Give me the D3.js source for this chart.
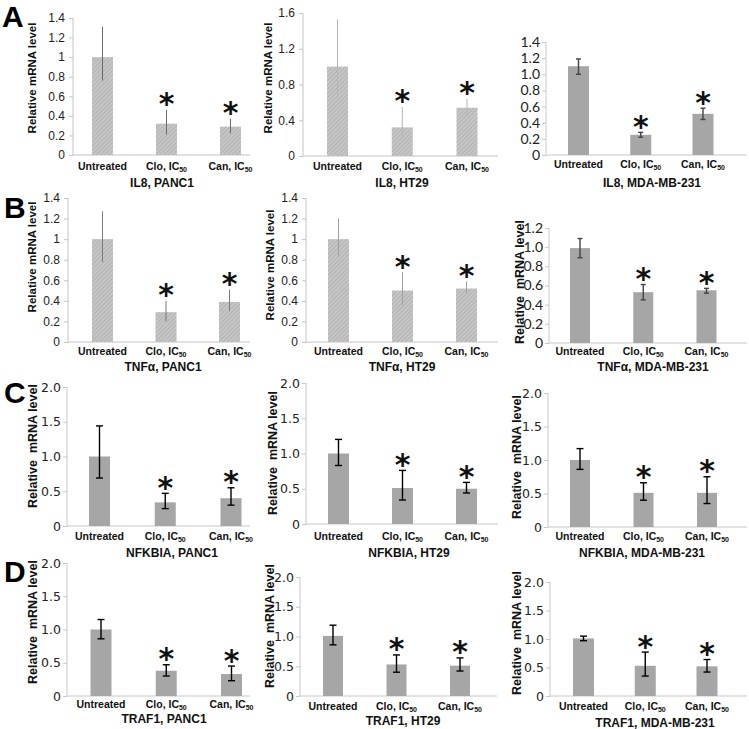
<!DOCTYPE html>
<html><head><meta charset="utf-8">
<script src="https://cdn.jsdelivr.net/npm/d3@7"></script>
<style>body{margin:0;background:#fff} svg{display:block}</style>
</head><body><svg id="c" width="749" height="729"></svg>
<script>
// ---------------- DATA ----------------
const categories = ["Untreated", "Clo", "Can"];
const significant = [false, true, true];
const panelNames = ["IL8, PANC1","IL8, HT29","IL8, MDA-MB-231",
  "TNFα, PANC1","TNFα, HT29","TNFα, MDA-MB-231",
  "NFKBIA, PANC1","NFKBIA, HT29","NFKBIA, MDA-MB-231",
  "TRAF1, PANC1","TRAF1, HT29","TRAF1, MDA-MB-231"];
const rowLetters = ["A","B","C","D"];

const IL8_PANC1_mean = [1.00, 0.32, 0.29];
const IL8_PANC1_low  = [0.76, 0.21, 0.22];
const IL8_PANC1_high = [1.31, 0.46, 0.37];
const IL8_HT29_mean  = [1.00, 0.32, 0.54];
const IL8_HT29_low   = [0.65, 0.20, 0.46];
const IL8_HT29_high  = [1.53, 0.55, 0.64];
const IL8_MDA_mean   = [1.10, 0.25, 0.51];
const IL8_MDA_low    = [1.00, 0.22, 0.44];
const IL8_MDA_high   = [1.19, 0.28, 0.58];
const TNF_PANC1_mean = [1.00, 0.29, 0.39];
const TNF_PANC1_low  = [0.78, 0.20, 0.30];
const TNF_PANC1_high = [1.27, 0.40, 0.51];
const TNF_HT29_mean  = [1.00, 0.50, 0.52];
const TNF_HT29_low   = [0.83, 0.36, 0.47];
const TNF_HT29_high  = [1.20, 0.68, 0.59];
const TNF_MDA_mean   = [0.99, 0.53, 0.55];
const TNF_MDA_low    = [0.89, 0.45, 0.52];
const TNF_MDA_high   = [1.09, 0.61, 0.57];
const NFK_PANC1_mean = [1.00, 0.34, 0.40];
const NFK_PANC1_low  = [0.69, 0.25, 0.30];
const NFK_PANC1_high = [1.44, 0.47, 0.55];
const NFK_HT29_mean  = [1.00, 0.51, 0.50];
const NFK_HT29_low   = [0.83, 0.34, 0.44];
const NFK_HT29_high  = [1.20, 0.76, 0.59];
const NFK_MDA_mean   = [1.00, 0.51, 0.51];
const NFK_MDA_low    = [0.86, 0.40, 0.35];
const NFK_MDA_high   = [1.17, 0.66, 0.75];
const TRAF_PANC1_mean = [1.00, 0.38, 0.33];
const TRAF_PANC1_low  = [0.86, 0.30, 0.23];
const TRAF_PANC1_high = [1.15, 0.47, 0.45];
const TRAF_HT29_mean  = [1.01, 0.53, 0.51];
const TRAF_HT29_low   = [0.86, 0.40, 0.42];
const TRAF_HT29_high  = [1.19, 0.69, 0.64];
const TRAF_MDA_mean   = [1.01, 0.53, 0.52];
const TRAF_MDA_low    = [0.97, 0.35, 0.42];
const TRAF_MDA_high   = [1.05, 0.77, 0.64];

const ticks14general = ["0","0.2","0.4","0.6","0.8","1","1.2","1.4"];
const ticks16general = ["0","0.4","0.8","1.2","1.6"];
const ticks14fixed   = ["0","0.2","0.4","0.6","0.8","1.0","1.2","1.4"];
const ticks12fixed   = ["0","0.2","0.4","0.6","0.8","1.0","1.2"];
const ticks20fixed   = ["0","0.5","1.0","1.5","2.0"];

const seriesMean = [IL8_PANC1_mean, IL8_HT29_mean, IL8_MDA_mean, TNF_PANC1_mean, TNF_HT29_mean, TNF_MDA_mean,
  NFK_PANC1_mean, NFK_HT29_mean, NFK_MDA_mean, TRAF_PANC1_mean, TRAF_HT29_mean, TRAF_MDA_mean];
const seriesLow = [IL8_PANC1_low, IL8_HT29_low, IL8_MDA_low, TNF_PANC1_low, TNF_HT29_low, TNF_MDA_low,
  NFK_PANC1_low, NFK_HT29_low, NFK_MDA_low, TRAF_PANC1_low, TRAF_HT29_low, TRAF_MDA_low];
const seriesHigh = [IL8_PANC1_high, IL8_HT29_high, IL8_MDA_high, TNF_PANC1_high, TNF_HT29_high, TNF_MDA_high,
  NFK_PANC1_high, NFK_HT29_high, NFK_MDA_high, TRAF_PANC1_high, TRAF_HT29_high, TRAF_MDA_high];
const panelTicks = [ticks14general, ticks16general, ticks14fixed, ticks14general, ticks14general, ticks12fixed,
  ticks20fixed, ticks20fixed, ticks20fixed, ticks20fixed, ticks20fixed, ticks20fixed];

// ---------------- LAYOUT / STYLE ----------------
const layout = [
 {ax:73, c0:102.5, c2:230.5, bw:21, y0:155, yT:18, right:250, st:"h", err:"#6a6a6a", yl:[32,78,"Relative mRNA level"], catY:170, tx:162, tY:187},
 {ax:303, c0:337.5, c2:467, bw:21, y0:156, yT:13, right:498, st:"h", err:"#b4b4b4", yl:[268,78,"Relative mRNA level"], catY:170, tx:402, tY:187},
 {ax:546, c0:578.5, c2:703, bw:21, y0:155, yT:42, right:747, st:"s", err:"#444", yl:null, catY:168, tx:652, tY:187},
 {ax:68, c0:102.5, c2:229.5, bw:21, y0:342, yT:198, right:250, st:"h", err:"#7a7a7a", yl:[32,257,"Relative mRNA level"], catY:355, tx:163, tY:371},
 {ax:306, c0:338.5, c2:466.5, bw:21, y0:342, yT:198, right:498, st:"h", err:"#a0a0a0", yl:[270,265,"Relative mRNA level"], catY:355, tx:402, tY:371},
 {ax:549, c0:580, c2:706.5, bw:20, y0:343, yT:228, right:747, st:"s", err:"#444", yl:[520,282,"Relative  mRNA level"], catY:355, tx:653, tY:371},
 {ax:67, c0:99.5, c2:231, bw:21, y0:526, yT:387, right:250, st:"v", err:"#000", yl:[33,446,"Relative  mRNA level"], catY:540, tx:172, tY:557},
 {ax:306, c0:338.5, c2:466.5, bw:21, y0:524, yT:383, right:498, st:"v", err:"#000", yl:[273,453,"Relative  mRNA level"], catY:540, tx:409, tY:557},
 {ax:548, c0:580, c2:707, bw:20, y0:527, yT:393, right:747, st:"v", err:"#000", yl:[517,457,"Relative  mRNA level"], catY:540, tx:642, tY:557},
 {ax:67, c0:101, c2:231.5, bw:21, y0:696, yT:563, right:250, st:"v", err:"#000", yl:[33,622,"Relative  mRNA level"], catY:708, tx:164, tY:723},
 {ax:300, c0:333, c2:460, bw:20, y0:696, yT:577, right:497, st:"v", err:"#000", yl:[270,626,"Relative  mRNA level"], catY:710, tx:403, tY:725},
 {ax:550, c0:583.5, c2:707, bw:21, y0:696, yT:582, right:747, st:"v", err:"#000", yl:[517,633,"Relative  mRNA level"], catY:710, tx:655, tY:727}
];
const letterPos = [[2,27],[4,218],[4,403],[4,582]];

const svg = d3.select("#c");
const defs = svg.append("defs");
const pat = defs.append("pattern").attr("id","hatch").attr("patternUnits","userSpaceOnUse")
  .attr("width",3).attr("height",3).attr("patternTransform","rotate(45)");
pat.append("rect").attr("width",3).attr("height",3).attr("fill","#c6c6c6");
pat.append("line").attr("x1",0.5).attr("x2",0.5).attr("y1",0).attr("y2",3).attr("stroke","#b2b2b2").attr("stroke-width",1);

const SANS = "'Liberation Sans', Arial, sans-serif";
const tickFont = {h:[SANS, 12], s:["Lato, 'Open Sans', sans-serif", 14], v:["'DejaVu Sans', Verdana, sans-serif", 12.5]};
const STAR_FS = 30;

layout.forEach((L, i) => {
  const g = svg.append("g");
  const y = d3.scaleLinear().domain([0, +panelTicks[i][panelTicks[i].length-1]]).range([L.y0, L.yT]);
  const x = d3.scalePoint().domain(categories).range([L.c0, L.c2]);
  const axisCol = L.st === "h" ? "#c4c4c4" : "#c8c8c8";

  const yAxis = d3.axisLeft(y).tickValues(panelTicks[i].map(Number))
    .tickFormat((d, k) => panelTicks[i][k]).tickSize(4).tickPadding(L.st==="h"?4:2);
  const ya = g.append("g").attr("transform", `translate(${L.ax},0)`).call(yAxis);
  ya.select(".domain").attr("stroke", axisCol).attr("d", `M0,${L.y0}V${L.yT}`);
  ya.selectAll(".tick line").attr("stroke", axisCol);
  ya.selectAll(".tick text").attr("font-family", tickFont[L.st][0]).attr("font-size", tickFont[L.st][1])
    .attr("fill", "#222");
  g.append("line").attr("x1", L.ax).attr("x2", L.right).attr("y1", L.y0).attr("y2", L.y0)
    .attr("stroke", axisCol).attr("stroke-width", 1);

  const mean = seriesMean[i], lo = seriesLow[i], hi = seriesHigh[i];
  g.selectAll("rect.bar").data(categories).join("rect").attr("class","bar")
    .attr("x", c => x(c) - L.bw/2).attr("width", L.bw)
    .attr("y", (c,k) => y(mean[k])).attr("height", (c,k) => y(0) - y(mean[k]))
    .attr("fill", L.st === "h" ? "url(#hatch)" : "#a6a6a6");
  const cap = L.st === "h" ? 0 : (L.st === "s" ? 2.5 : 3.5);
  const sw = L.st === "h" ? 1 : 1.4;
  categories.forEach((c, k) => {
    const cx = x(c);
    g.append("line").attr("x1",cx).attr("x2",cx).attr("y1",y(lo[k])).attr("y2",y(hi[k]))
      .attr("stroke",L.err).attr("stroke-width",sw);
    if (cap > 0) {
      [lo[k], hi[k]].forEach(v => g.append("line").attr("x1",cx-cap).attr("x2",cx+cap)
        .attr("y1",y(v)).attr("y2",y(v)).attr("stroke",L.err).attr("stroke-width",sw));
    }
    if (significant[k]) {
      g.append("text").attr("x", cx).attr("y", y(hi[k]) - 12 + 0.55*STAR_FS)
        .attr("text-anchor","middle").attr("font-family", "'DejaVu Sans', sans-serif").attr("font-weight","bold")
        .attr("font-size", STAR_FS).attr("fill","#111").text("*");
    }
    const t = g.append("text").attr("x", cx).attr("y", L.catY).attr("text-anchor","middle")
      .attr("font-family", SANS).attr("font-weight","bold").attr("font-size", 10.5).attr("fill","#111");
    if (k === 0) t.text(c);
    else {
      t.append("tspan").text(c + ", IC");
      t.append("tspan").attr("font-size", 7).attr("dy", 2).attr("fill","#111").text("50");
    }
  });
  if (L.yl) {
    const dbl = L.yl[2].includes("  ");
    g.append("text").attr("transform", `translate(${L.yl[0]},${L.yl[1]}) rotate(-90)`)
      .attr("text-anchor","middle").attr("dominant-baseline","central").style("white-space","pre")
      .attr("font-family", SANS).attr("font-weight","bold").attr("font-size", dbl ? 12.5 : 11.5).attr("fill","#111")
      .text(L.yl[2]);
  }
  g.append("text").attr("x", L.tx).attr("y", L.tY).attr("text-anchor","middle")
    .attr("font-family", SANS).attr("font-weight","bold").attr("font-size", 12).attr("fill","#111")
    .text(panelNames[i]);
});

rowLetters.forEach((l, r) => {
  svg.append("text").attr("x", letterPos[r][0]).attr("y", letterPos[r][1])
    .attr("font-family", SANS).attr("font-weight","bold").attr("font-size", 30).attr("fill","#000").text(l);
});
</script></body></html>
